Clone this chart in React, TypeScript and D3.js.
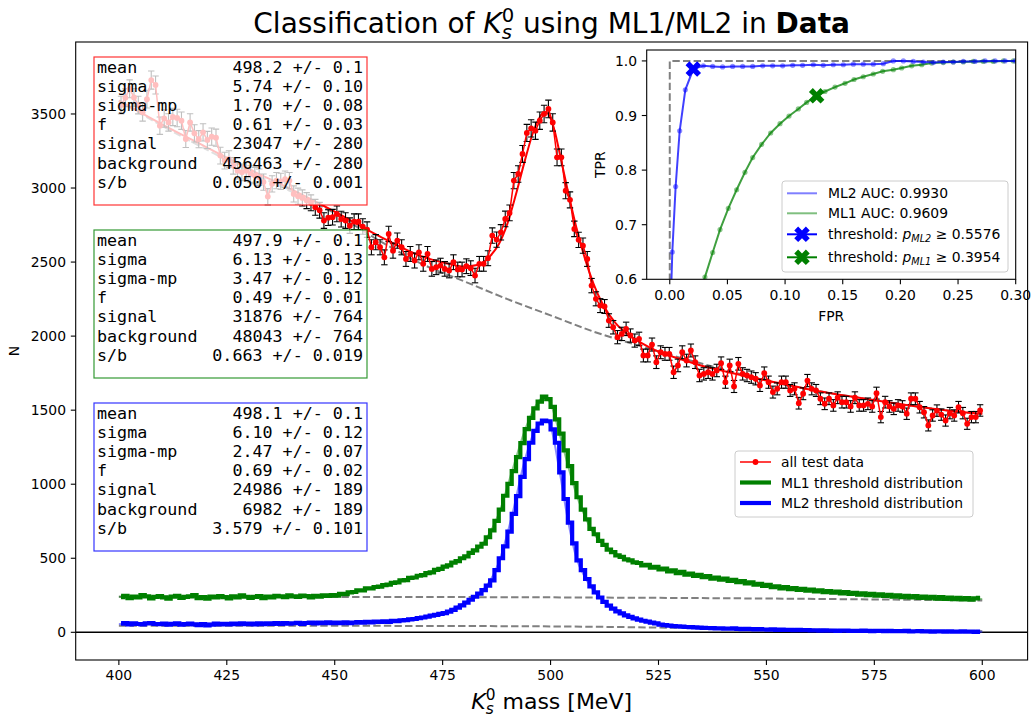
import React from "react";
import * as d3 from "d3";

const W = 1031;
const H = 717;

// 1 MeV bins from 400 to 600 MeV
const BIN_LO = 400;
const BIN_W = 1;

// all test data, counts per bin
const allTestCounts = [
  3560, 3610, 3670, 3612, 3560, 3511, 3600, 3729, 3696, 3421,
  3470, 3443, 3480, 3473, 3455, 3331, 3443, 3369, 3330, 3376,
  3325, 3347, 3340, 3219, 3185, 3195, 3150, 3117, 3106, 3117,
  3095, 3084, 3073, 3040, 2942, 3028, 3050, 3045, 3060, 3050,
  2960, 2945, 2933, 2915, 2900, 2870, 2850, 2780, 2800, 2803,
  2825, 2790, 2780, 2746, 2773, 2773, 2740, 2719, 2600, 2634,
  2600, 2532, 2690, 2577, 2645, 2600, 2521, 2555, 2510, 2566,
  2488, 2555, 2454, 2465, 2476, 2454, 2443, 2499, 2450, 2450,
  2472, 2459, 2409, 2488, 2488, 2526, 2679, 2652, 2701, 2791,
  2832, 3050, 3095, 3230, 3372, 3403, 3387, 3455, 3500, 3534,
  3443, 3207, 3207, 2982, 2920, 2724, 2650, 2611, 2521, 2341,
  2252, 2206, 2200, 2105, 2060, 1993, 2015, 2049, 2004, 1970,
  1982, 1869, 1869, 1943, 1824, 1891, 1880, 1880, 1756, 1802,
  1891, 1835, 1903, 1824, 1734, 1745, 1756, 1745, 1768, 1817,
  1689, 1802, 1660, 1813, 1745, 1734, 1723, 1712, 1667, 1750,
  1689, 1622, 1644, 1689, 1689, 1633, 1644, 1547, 1611, 1700,
  1644, 1633, 1577, 1543, 1577, 1532, 1584, 1554, 1554, 1525,
  1584, 1532, 1532, 1543, 1525, 1615, 1453, 1554, 1525, 1509,
  1532, 1525, 1476, 1577, 1577, 1520, 1486, 1397, 1464, 1497,
  1470, 1430, 1480, 1464, 1520, 1480, 1408, 1453, 1453, 1498,
];

// ML1 selected candidates
const ml1Counts = [
  238, 246, 231, 241, 235, 251, 243, 229, 239, 245,
  236, 227, 241, 247, 233, 239, 243, 252, 231, 237,
  228, 241, 235, 245, 238, 229, 243, 236, 249, 240,
  233, 239, 245, 231, 241, 236, 247, 242, 237, 250,
  243, 239, 248, 244, 236, 247, 241, 250, 245, 252,
  248, 259, 258, 270, 272, 284, 283, 297, 296, 306,
  308, 318, 322, 334, 337, 350, 353, 367, 370, 382,
  386, 400, 405, 421, 428, 444, 452, 470, 480, 500,
  513, 537, 553, 578, 598, 642, 688, 752, 828, 922,
  1002, 1088, 1183, 1278, 1372, 1448, 1512, 1558, 1592, 1574,
  1522, 1438, 1342, 1228, 1122, 1008, 912, 828, 762, 698,
  662, 618, 590, 558, 542, 520, 509, 493, 486, 472,
  468, 451, 456, 437, 442, 425, 430, 412, 418, 400,
  408, 390, 396, 381, 388, 372, 379, 363, 370, 356,
  362, 347, 354, 339, 345, 331, 338, 322, 328, 313,
  320, 305, 311, 297, 305, 292, 299, 286, 293, 281,
  289, 276, 284, 271, 279, 267, 275, 263, 271, 259,
  267, 255, 263, 251, 260, 248, 256, 245, 253, 241,
  250, 238, 247, 235, 244, 233, 241, 230, 239, 228,
  237, 226, 235, 224, 233, 222, 231, 221, 229, 232,
];

// ML2 selected candidates
const ml2Counts = [
  58, 63, 54, 61, 56, 53, 60, 63, 56, 55,
  59, 52, 57, 61, 51, 55, 59, 53, 49, 56,
  47, 52, 58, 53, 57, 53, 59, 55, 61, 55,
  58, 53, 60, 55, 61, 57, 63, 57, 62, 58,
  61, 64, 57, 63, 66, 60, 65, 61, 67, 62,
  65, 61, 67, 62, 66, 69, 65, 71, 67, 73,
  70, 74, 71, 77, 75, 80, 82, 87, 90, 96,
  100, 106, 112, 118, 124, 130, 140, 152, 166, 182,
  200, 220, 240, 261, 285, 315, 350, 420, 500, 580,
  680, 800, 920, 1050, 1170, 1280, 1360, 1410, 1430, 1425,
  1370, 1280, 1080, 900, 740, 600, 486, 420, 360, 310,
  270, 235, 205, 180, 160, 142, 128, 115, 104, 94,
  85, 78, 72, 66, 60, 52, 48, 45, 42, 40,
  38, 36, 35, 33, 32, 30, 29, 28, 27, 26,
  25, 24, 26, 23, 22, 24, 21, 20, 22, 19,
  18, 20, 17, 18, 16, 17, 15, 16, 14, 15,
  13, 14, 12, 13, 11, 12, 10, 11, 12, 10,
  9, 10, 11, 9, 8, 10, 9, 8, 9, 7,
  8, 7, 9, 6, 7, 8, 6, 7, 5, 6,
  6, 5, 7, 5, 4, 6, 4, 5, 3, 4,
];

// fitted models (signal + background) and background-only components
const allFitMass = [400, 410, 420, 430, 440, 450, 460, 470, 476, 480, 483, 486, 488, 490, 492, 494, 496, 497, 498, 499, 500, 501, 502, 504, 506, 508, 510, 512, 515, 518, 521, 525, 530, 535, 540, 550, 560, 570, 580, 590, 600];
const allFitCounts = [3590, 3430, 3280, 3130, 2990, 2840, 2680, 2540, 2490, 2470, 2480, 2540, 2620, 2760, 2960, 3180, 3380, 3450, 3500, 3510, 3470, 3380, 3250, 2980, 2730, 2520, 2350, 2220, 2090, 2010, 1955, 1895, 1845, 1800, 1765, 1700, 1640, 1590, 1545, 1505, 1475];
const allBkgMass = [400, 410, 420, 430, 440, 450, 460, 470, 480, 490, 500, 510, 520, 530, 540, 550, 560, 570, 580, 590, 600];
const allBkgCounts = [3590, 3420, 3265, 3115, 2975, 2830, 2650, 2490, 2370, 2250, 2140, 2030, 1940, 1855, 1775, 1700, 1640, 1590, 1545, 1505, 1475];

const ml1FitMass = [400, 420, 440, 450, 460, 470, 475, 480, 484, 488, 491, 494, 496, 498, 499, 500, 502, 504, 506, 508, 510, 513, 516, 520, 525, 530, 540, 550, 560, 570, 580, 590, 600];
const ml1FitCounts = [240, 238, 242, 252, 306, 388, 440, 508, 590, 800, 1080, 1360, 1500, 1580, 1585, 1545, 1350, 1130, 930, 780, 665, 575, 515, 466, 430, 400, 357, 314, 284, 262, 245, 232, 224];
const ml1BkgMass = [400, 450, 500, 550, 600];
const ml1BkgCounts = [240, 239, 236, 228, 215];

const ml2FitMass = [400, 440, 460, 470, 476, 480, 484, 488, 491, 494, 496, 498, 499, 500, 502, 504, 506, 508, 510, 513, 516, 520, 525, 530, 540, 550, 560, 580, 600];
const ml2FitCounts = [56, 60, 70, 100, 140, 200, 275, 470, 780, 1160, 1340, 1425, 1432, 1390, 1100, 760, 500, 370, 280, 195, 140, 88, 55, 42, 28, 20, 14, 8, 4];
const ml2BkgMass = [400, 450, 500, 520, 540, 560, 580, 600];
const ml2BkgCounts = [45, 44, 40, 34, 26, 18, 12, 7];

// fit summaries
const fitNames = ["mean", "sigma", "sigma-mp", "f", "signal", "background", "s/b"];
const allFitValues = ["498.2 +/- 0.1", "5.74 +/- 0.10", "1.70 +/- 0.08", "0.61 +/- 0.03", "23047 +/- 280", "456463 +/- 280", "0.050 +/- 0.001"];
const ml1FitValues = ["497.9 +/- 0.1", "6.13 +/- 0.13", "3.47 +/- 0.12", "0.49 +/- 0.01", "31876 +/- 764", "48043 +/- 764", "0.663 +/- 0.019"];
const ml2FitValues = ["498.1 +/- 0.1", "6.10 +/- 0.12", "2.47 +/- 0.07", "0.69 +/- 0.02", "24986 +/- 189", "6982 +/- 189", "3.579 +/- 0.101"];

// ROC curves
const ml2Fpr = [0.0008, 0.0022, 0.0051, 0.0086, 0.0135, 0.0204, 0.0291, 0.0372, 0.0458, 0.0545, 0.0632, 0.0719, 0.0806, 0.0892, 0.0979, 0.1066, 0.1152, 0.1245, 0.1331, 0.1418, 0.1505, 0.1592, 0.1678, 0.1765, 0.1852, 0.1939, 0.2026, 0.2112, 0.2199, 0.2286, 0.2372, 0.2459, 0.2546, 0.2647, 0.2734, 0.2821, 0.2907, 0.2994];
const ml2Tpr = [0.55, 0.650, 0.770, 0.872, 0.947, 0.985, 0.991, 0.990, 0.989, 0.990, 0.990, 0.990, 0.991, 0.991, 0.991, 0.992, 0.992, 0.993, 0.992, 0.993, 0.993, 0.994, 0.994, 0.994, 0.995, 1.000, 1.000, 0.999, 0.998, 0.997, 0.998, 0.998, 0.999, 0.999, 1.0, 1.0, 1.0, 1.0];
const ml1Fpr = [0.0260, 0.0305, 0.0372, 0.0436, 0.0508, 0.0580, 0.0652, 0.0719, 0.0797, 0.0875, 0.0956, 0.1034, 0.1115, 0.1187, 0.1274, 0.1346, 0.1433, 0.1520, 0.1598, 0.1678, 0.1765, 0.1846, 0.1939, 0.2011, 0.2098, 0.2185, 0.2271, 0.2372, 0.2459, 0.2546, 0.2632, 0.2719, 0.2806, 0.2893, 0.2979];
const ml1Tpr = [0.570, 0.604, 0.649, 0.691, 0.730, 0.764, 0.796, 0.823, 0.847, 0.868, 0.885, 0.899, 0.912, 0.924, 0.936, 0.944, 0.952, 0.959, 0.966, 0.971, 0.976, 0.981, 0.984, 0.987, 0.991, 0.993, 0.996, 0.997, 0.998, 0.998, 0.999, 0.999, 0.999, 1.0, 1.0];
const ml2Threshold = { fpr: 0.0204, tpr: 0.985, cut: "0.5576", auc: "0.9930" };
const ml1Threshold = { fpr: 0.1274, tpr: 0.936, cut: "0.3954", auc: "0.9609" };

const massTicks = [400, 425, 450, 475, 500, 525, 550, 575, 600];
const countTicks = [0, 500, 1000, 1500, 2000, 2500, 3000, 3500];
const fprTicks = [0, 0.05, 0.1, 0.15, 0.2, 0.25, 0.3];
const tprTicks = [0.6, 0.7, 0.8, 0.9, 1.0];

const SANS = "'DejaVu Sans', sans-serif";
const MONO = "'DejaVu Sans Mono', monospace";
const GREEN = "#008000";
const BLUE = "#0000ff";
const RED = "#ff0000";

// main axes frame
const M = { left: 75.7, right: 1027.6, top: 42, bottom: 660 };
// inset axes frame
const I = { left: 646.7, right: 1015.7, top: 50, bottom: 279.3 };

const x = d3.scaleLinear().domain([390, 610.5]).range([M.left, M.right]);
const y = d3.scaleLinear().domain([-187, 3986]).range([M.bottom, M.top]);
const ix = d3.scaleLinear().domain([-0.02, 0.3]).range([I.left, I.right]);
const iy = d3.scaleLinear().domain([0.6, 1.02]).range([I.bottom, I.top]);

const binCenter = (i: number) => BIN_LO + BIN_W * (i + 0.5);

const lineXY = d3.line<[number, number]>().x((d) => x(d[0])).y((d) => y(d[1]));
const smooth = d3.line<[number, number]>().x((d) => x(d[0])).y((d) => y(d[1])).curve(d3.curveMonotoneX);
const stepLine = d3.line<[number, number]>().x((d) => x(d[0])).y((d) => y(d[1])).curve(d3.curveStep);
const rocLine = d3.line<[number, number]>().x((d) => ix(d[0])).y((d) => iy(d[1]));

const zip = (a: number[], b: number[]) => a.map((v, i) => [v, b[i]] as [number, number]);
const hist = (counts: number[]) => counts.map((c, i) => [binCenter(i), c] as [number, number]);

// filled "X" marker: a plus rotated by 45 degrees
const xMarker = d3.symbol().type(d3.symbolCross).size(150)() as string;

function FitBox({ top, color, values }: { top: number; color: string; values: string[] }) {
  const left = 94;
  const width = 273;
  const height = 148;
  const step = 19.2;
  return (
    <g>
      <rect x={left} y={top} width={width} height={height} fill="white" fillOpacity={0.75} stroke={color} strokeOpacity={0.8} strokeWidth={1.2} />
      {fitNames.map((n, k) => (
        <g key={n} fontFamily={MONO} fontSize={16.7} fill="black">
          <text x={left + 3} y={top + 15.5 + k * step}>{n}</text>
          <text x={left + width - 4} y={top + 15.5 + k * step} textAnchor="end">{values[k]}</text>
        </g>
      ))}
    </g>
  );
}

// K_s^0 with stacked sub/superscript, followed by plain text
function KLabel({ cx, cy, size, suffix }: { cx: number; cy: number; size: number; suffix: string }) {
  const sub = size * 0.7;
  return (
    <text x={cx} y={cy} textAnchor="middle" fontFamily={SANS} fontSize={size} fill="black">
      <tspan fontStyle="italic">K</tspan>
      <tspan fontSize={sub} fontStyle="italic" dy={size * 0.22}>s</tspan>
      <tspan fontSize={sub} dx={-sub * 0.52} dy={-size * 0.62}>0</tspan>
      <tspan dy={size * 0.4}>{suffix}</tspan>
    </text>
  );
}

export default function App() {
  const allPts = hist(allTestCounts);

  return (
    <div style={{ position: "absolute", left: 0, top: 0, width: W, height: H, background: "white" }}>
      <svg width={W} height={H} viewBox={`0 0 ${W} ${H}`} style={{ display: "block" }}>
        <defs>
          <clipPath id="mainClip">
            <rect x={M.left} y={M.top} width={M.right - M.left} height={M.bottom - M.top} />
          </clipPath>
          <clipPath id="insetClip">
            <rect x={I.left} y={I.top} width={I.right - I.left} height={I.bottom - I.top} />
          </clipPath>
        </defs>
        <rect x={0} y={0} width={W} height={H} fill="white" />

        {/* title */}
        <text x={(M.left + M.right) / 2} y={33} textAnchor="middle" fontFamily={SANS} fontSize={28} fill="black">
          {"Classification of "}
          <tspan fontStyle="italic">K</tspan>
          <tspan fontSize={19.6} fontStyle="italic" dy={6}>s</tspan>
          <tspan fontSize={19.6} dx={-10.2} dy={-17}>0</tspan>
          <tspan dy={11}>{" using ML1/ML2 in "}</tspan>
          <tspan fontWeight="bold">Data</tspan>
        </text>

        {/* main plot content */}
        <g clipPath="url(#mainClip)">
          <line x1={M.left} x2={M.right} y1={y(0)} y2={y(0)} stroke="black" strokeWidth={1.6} />

          {/* background components */}
          {[
            zip(allBkgMass, allBkgCounts),
            zip(ml1BkgMass, ml1BkgCounts),
            zip(ml2BkgMass, ml2BkgCounts),
          ].map((pts, k) => (
            <path key={k} d={smooth(pts) as string} fill="none" stroke="#808080" strokeWidth={2} strokeDasharray="7.4 3.2" />
          ))}

          {/* selected distributions */}
          <path d={stepLine(hist(ml1Counts)) as string} fill="none" stroke={GREEN} strokeWidth={4.2} strokeLinejoin="miter" />
          <path d={smooth(zip(ml1FitMass, ml1FitCounts)) as string} fill="none" stroke={GREEN} strokeOpacity={0.45} strokeWidth={2} />
          <path d={stepLine(hist(ml2Counts)) as string} fill="none" stroke={BLUE} strokeWidth={4.2} strokeLinejoin="miter" />
          <path d={smooth(zip(ml2FitMass, ml2FitCounts)) as string} fill="none" stroke={BLUE} strokeOpacity={0.45} strokeWidth={2} />

          {/* all test data with statistical errors */}
          <path d={smooth(zip(allFitMass, allFitCounts)) as string} fill="none" stroke={RED} strokeWidth={2} />
          {allPts.map(([m, c], i) => {
            const xx = x(m);
            const yt = y(c + Math.sqrt(c));
            const yb = y(c - Math.sqrt(c));
            return (
              <g key={i} stroke="black" strokeWidth={1.1}>
                <line x1={xx} x2={xx} y1={yt} y2={yb} />
                <line x1={xx - 3.2} x2={xx + 3.2} y1={yt} y2={yt} />
                <line x1={xx - 3.2} x2={xx + 3.2} y1={yb} y2={yb} />
              </g>
            );
          })}
          <path d={lineXY(allPts) as string} fill="none" stroke={RED} strokeWidth={1.5} />
          {allPts.map(([m, c], i) => (
            <circle key={i} cx={x(m)} cy={y(c)} r={2.9} fill={RED} />
          ))}
        </g>

        {/* fit result boxes */}
        <FitBox top={57} color={RED} values={allFitValues} />
        <FitBox top={230} color={GREEN} values={ml1FitValues} />
        <FitBox top={403} color={BLUE} values={ml2FitValues} />

        {/* main frame and axes */}
        <rect x={M.left} y={M.top} width={M.right - M.left} height={M.bottom - M.top} fill="none" stroke="black" strokeWidth={1.1} />
        {massTicks.map((t) => (
          <g key={t}>
            <line x1={x(t)} x2={x(t)} y1={M.bottom} y2={M.bottom + 4.9} stroke="black" strokeWidth={1.1} />
            <text x={x(t)} y={M.bottom + 20} textAnchor="middle" fontFamily={SANS} fontSize={13.9}>{t}</text>
          </g>
        ))}
        {countTicks.map((t) => (
          <g key={t}>
            <line x1={M.left - 4.9} x2={M.left} y1={y(t)} y2={y(t)} stroke="black" strokeWidth={1.1} />
            <text x={M.left - 9.7} y={y(t) + 5} textAnchor="end" fontFamily={SANS} fontSize={13.9}>{t}</text>
          </g>
        ))}
        <text transform={`translate(19,${(M.top + M.bottom) / 2}) rotate(-90)`} textAnchor="middle" fontFamily={SANS} fontSize={13.9}>N</text>
        <KLabel cx={(M.left + M.right) / 2} cy={709} size={22} suffix={" mass [MeV]"} />

        {/* legend */}
        <g fontFamily={SANS} fontSize={13.9}>
          <rect x={735} y={451} width={238} height={66} rx={3} fill="white" fillOpacity={0.8} stroke="#cccccc" />
          <line x1={740} x2={771} y1={462} y2={462} stroke={RED} strokeWidth={1.5} />
          <circle cx={755.5} cy={462} r={2.9} fill={RED} />
          <text x={781} y={467}>all test data</text>
          <line x1={740} x2={771} y1={482.5} y2={482.5} stroke={GREEN} strokeWidth={4.2} />
          <text x={781} y={487.5}>ML1 threshold distribution</text>
          <line x1={740} x2={771} y1={503} y2={503} stroke={BLUE} strokeWidth={4.2} />
          <text x={781} y={508}>ML2 threshold distribution</text>
        </g>

        {/* ROC inset */}
        <rect x={I.left} y={I.top} width={I.right - I.left} height={I.bottom - I.top} fill="white" />
        <g clipPath="url(#insetClip)">
          <path
            d={rocLine([[0, 0.5], [0, 1], [0.35, 1]]) as string}
            fill="none"
            stroke="#808080"
            strokeWidth={2}
            strokeDasharray="7.4 3.2"
          />
          <path d={rocLine(zip(ml1Fpr, ml1Tpr)) as string} fill="none" stroke={GREEN} strokeOpacity={0.75} strokeWidth={2} />
          {ml1Fpr.map((f, k) => (
            <circle key={k} cx={ix(f)} cy={iy(ml1Tpr[k])} r={2.6} fill={GREEN} fillOpacity={0.45} />
          ))}
          <path d={rocLine(zip(ml2Fpr, ml2Tpr)) as string} fill="none" stroke={BLUE} strokeOpacity={0.75} strokeWidth={2} />
          {ml2Fpr.map((f, k) => (
            <circle key={k} cx={ix(f)} cy={iy(ml2Tpr[k])} r={2.6} fill={BLUE} fillOpacity={0.45} />
          ))}
          <path d={xMarker} transform={`translate(${ix(ml2Threshold.fpr)},${iy(ml2Threshold.tpr)}) rotate(45)`} fill={BLUE} />
          <path d={xMarker} transform={`translate(${ix(ml1Threshold.fpr)},${iy(ml1Threshold.tpr)}) rotate(45)`} fill={GREEN} />
        </g>
        <rect x={I.left} y={I.top} width={I.right - I.left} height={I.bottom - I.top} fill="none" stroke="black" strokeWidth={1.1} />
        {fprTicks.map((t) => (
          <g key={t}>
            <line x1={ix(t)} x2={ix(t)} y1={I.bottom} y2={I.bottom + 4.9} stroke="black" strokeWidth={1.1} />
            <text x={ix(t)} y={I.bottom + 21} textAnchor="middle" fontFamily={SANS} fontSize={13.9}>{t.toFixed(2)}</text>
          </g>
        ))}
        {tprTicks.map((t) => (
          <g key={t}>
            <line x1={I.left - 4.9} x2={I.left} y1={iy(t)} y2={iy(t)} stroke="black" strokeWidth={1.1} />
            <text x={I.left - 9.7} y={iy(t) + 5} textAnchor="end" fontFamily={SANS} fontSize={13.9}>{t.toFixed(1)}</text>
          </g>
        ))}
        <text x={(I.left + I.right) / 2} y={321} textAnchor="middle" fontFamily={SANS} fontSize={13.9}>FPR</text>
        <text transform={`translate(605,${(I.top + I.bottom) / 2}) rotate(-90)`} textAnchor="middle" fontFamily={SANS} fontSize={13.9}>TPR</text>

        {/* inset legend */}
        <g fontFamily={SANS} fontSize={13.9}>
          <rect x={782} y={181} width={226} height={91} rx={3} fill="white" fillOpacity={0.8} stroke="#cccccc" />
          <line x1={787} x2={817} y1={193.3} y2={193.3} stroke={BLUE} strokeOpacity={0.5} strokeWidth={2} />
          <text x={828} y={198.3}>{`ML2 AUC: ${ml2Threshold.auc}`}</text>
          <line x1={787} x2={817} y1={213.3} y2={213.3} stroke={GREEN} strokeOpacity={0.5} strokeWidth={2} />
          <text x={828} y={218.3}>{`ML1 AUC: ${ml1Threshold.auc}`}</text>
          <line x1={787} x2={817} y1={234.3} y2={234.3} stroke={BLUE} strokeWidth={2} />
          <path d={xMarker} transform={`translate(802,234.3) rotate(45)`} fill={BLUE} />
          <text x={828} y={239.3}>
            {"threshold: "}
            <tspan fontStyle="italic">p</tspan>
            <tspan fontStyle="italic" fontSize={9.7} dy={3}>ML2</tspan>
            <tspan dy={-3}>{` \u2265 ${ml2Threshold.cut}`}</tspan>
          </text>
          <line x1={787} x2={817} y1={257.3} y2={257.3} stroke={GREEN} strokeWidth={2} />
          <path d={xMarker} transform={`translate(802,257.3) rotate(45)`} fill={GREEN} />
          <text x={828} y={262.3}>
            {"threshold: "}
            <tspan fontStyle="italic">p</tspan>
            <tspan fontStyle="italic" fontSize={9.7} dy={3}>ML1</tspan>
            <tspan dy={-3}>{` \u2265 ${ml1Threshold.cut}`}</tspan>
          </text>
        </g>
      </svg>
    </div>
  );
}
